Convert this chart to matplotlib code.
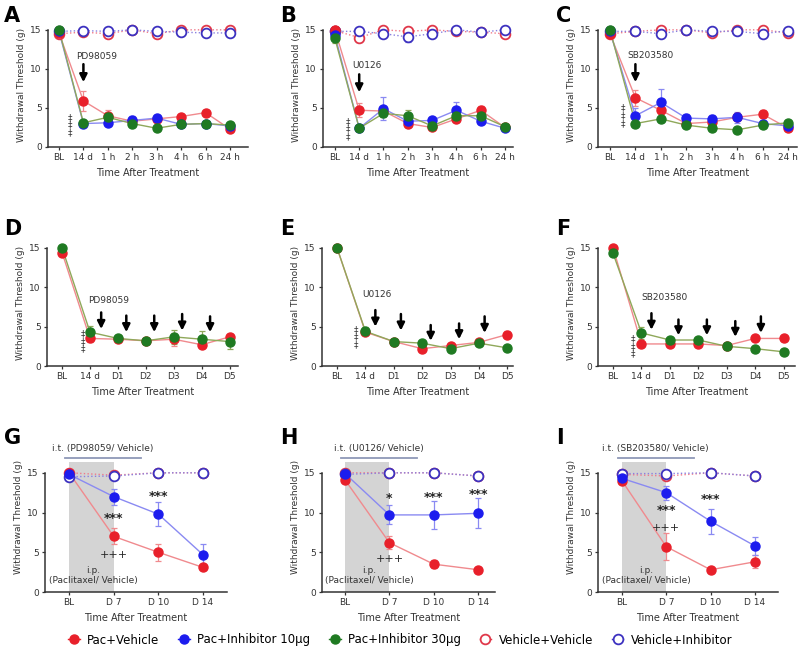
import matplotlib
matplotlib.use("Agg")
import matplotlib.pyplot as plt
from matplotlib.lines import Line2D

hours = ["BL", "14 d", "1 h", "2 h", "3 h", "4 h", "6 h", "24 h"]
days = ["BL", "14 d", "D1", "D2", "D3", "D4", "D5"]
weeks = ["BL", "D 7", "D 10", "D 14"]

# A - PD98059 single dose
a_pv = [14.6, 5.9, 4.0, 3.3, 3.6, 3.9, 4.4, 2.3]
a_pv_err = [0.2, 1.3, 0.7, 0.3, 0.3, 0.3, 0.4, 0.2]
a_p10 = [14.8, 3.0, 3.1, 3.4, 3.7, 2.9, 3.0, 2.7]
a_p10_err = [0.2, 0.3, 0.3, 0.6, 0.4, 0.3, 0.3, 0.3]
a_p30 = [15.0, 3.1, 3.8, 3.0, 2.4, 2.9, 3.0, 2.8]
a_p30_err = [0.1, 0.3, 0.4, 0.3, 0.3, 0.3, 0.3, 0.3]
a_vv = [14.5, 14.7, 14.5, 15.0, 14.5, 15.0, 15.0, 15.0]
a_vi = [14.8, 14.9, 14.8, 15.0, 14.8, 14.7, 14.6, 14.6]

# B - U0126 single dose
b_pv = [15.0, 4.7, 4.6, 3.0, 2.5, 3.6, 4.7, 2.5]
b_pv_err = [0.2, 0.9, 0.5, 0.4, 0.3, 0.4, 0.5, 0.3]
b_p10 = [14.3, 2.4, 4.9, 3.3, 3.4, 4.7, 3.3, 2.4]
b_p10_err = [0.5, 0.3, 1.5, 0.4, 0.4, 1.1, 0.4, 0.2]
b_p30 = [13.9, 2.4, 4.3, 4.0, 2.7, 4.0, 4.0, 2.6]
b_p30_err = [0.6, 0.3, 0.5, 0.8, 0.3, 0.5, 0.5, 0.3]
b_vv = [14.9, 14.0, 15.0, 14.8, 15.0, 14.8, 14.7, 14.5]
b_vv_err = [0.2, 0.6, 0.2, 0.3, 0.2, 0.3, 0.2, 0.3]
b_vi = [14.8, 14.8, 14.5, 14.1, 14.5, 15.0, 14.7, 15.0]
b_vi_err = [0.2, 0.3, 0.3, 0.6, 0.3, 0.2, 0.3, 0.2]

# C - SB203580 single dose
c_pv = [14.5, 6.3, 4.7, 3.0, 3.2, 3.8, 4.2, 2.4]
c_pv_err = [0.2, 1.0, 0.5, 0.4, 0.4, 0.4, 0.5, 0.3]
c_p10 = [14.8, 4.0, 5.7, 3.7, 3.6, 3.8, 3.0, 2.7]
c_p10_err = [0.2, 1.0, 1.7, 0.5, 0.5, 0.7, 0.4, 0.3]
c_p30 = [15.0, 3.0, 3.6, 2.8, 2.4, 2.2, 2.8, 3.1]
c_p30_err = [0.1, 0.3, 0.4, 0.3, 0.3, 0.3, 0.3, 0.3]
c_vv = [14.5, 14.8, 15.0, 15.0, 14.6, 15.0, 15.0, 14.6]
c_vi = [14.8, 14.8, 14.5, 15.0, 14.8, 14.8, 14.5, 14.9]

# D-F repeated doses
d_pv = [14.4, 3.5, 3.4, 3.2, 3.4, 2.7, 3.7]
d_pv_err = [0.3, 0.4, 0.3, 0.2, 0.8, 0.3, 0.3]
d_p30 = [15.0, 4.3, 3.5, 3.2, 3.7, 3.4, 3.1]
d_p30_err = [0.2, 0.8, 0.5, 0.2, 0.9, 1.0, 1.0]
e_pv = [15.0, 4.3, 3.1, 2.2, 2.6, 3.0, 4.0]
e_pv_err = [0.2, 0.4, 0.3, 0.3, 0.3, 0.3, 0.4]
e_p30 = [15.0, 4.4, 3.1, 2.9, 2.2, 2.9, 2.3]
e_p30_err = [0.2, 0.5, 0.3, 0.3, 0.3, 0.3, 0.3]
f_pv = [15.0, 2.8, 2.8, 2.8, 2.6, 3.5, 3.5]
f_pv_err = [0.2, 0.3, 0.3, 0.3, 0.3, 0.3, 0.3]
f_p30 = [14.3, 4.2, 3.3, 3.3, 2.5, 2.2, 1.8]
f_p30_err = [0.3, 0.8, 0.3, 0.3, 0.3, 0.3, 0.3]

# G-I pre-treatment
g_pv = [15.0, 7.0, 5.0, 3.1]
g_pv_err = [0.2, 1.0, 1.1, 0.3]
g_p10 = [14.8, 12.0, 9.8, 4.7]
g_p10_err = [0.2, 1.0, 1.5, 1.3]
g_vv = [15.0, 14.7, 15.0, 15.0]
g_vi = [14.5, 14.6, 15.0, 15.0]
h_pv = [14.1, 6.2, 3.5, 2.8]
h_pv_err = [0.2, 0.8, 0.5, 0.2]
h_p10 = [14.9, 9.7, 9.7, 9.9]
h_p10_err = [0.2, 1.2, 1.8, 1.9]
h_vv = [15.0, 15.0, 15.0, 14.6]
h_vi = [14.8, 15.0, 15.0, 14.6]
i_pv = [14.0, 5.7, 2.8, 3.8]
i_pv_err = [0.2, 1.7, 0.2, 0.8]
i_p10 = [14.3, 12.5, 8.9, 5.8]
i_p10_err = [0.3, 0.9, 1.6, 1.1]
i_vv = [14.8, 14.6, 15.0, 14.6]
i_vi = [14.9, 14.9, 15.0, 14.6]

legend_names = ["Pac+Vehicle", "Pac+Inhibitor 10\u03bcg", "Pac+Inhibitor 30\u03bcg",
                "Vehicle+Vehicle", "Vehicle+Inhibitor"]

RED = "#e8202a"
BLUE = "#1c1cee"
GREEN = "#1f7a22"
ORED = "#e0384a"
OBLUE = "#3d32c0"
styles = {
    "pv": dict(c=RED, lc="#f08a8e", fill=True),
    "p10": dict(c=BLUE, lc="#8a8af2", fill=True),
    "p30": dict(c=GREEN, lc="#8fa85a", fill=True),
    "vv": dict(c=ORED, lc="#f07a8a", fill=False),
    "vi": dict(c=OBLUE, lc="#8a80e0", fill=False),
}
GREY = "#333333"

W, H = 800, 661
fig = plt.figure(figsize=(8, 6.61), dpi=100)


def make_ax(l, r, t, b, xlim, ytop, cats):
    ax = fig.add_axes([l / W, 1 - b / H, (r - l) / W, (b - t) / H])
    ax.set_xlim(*xlim)
    ax.set_ylim(0, ytop)
    for s in ["top", "right"]:
        ax.spines[s].set_visible(False)
    for s in ["left", "bottom"]:
        ax.spines[s].set_color(GREY)
        ax.spines[s].set_linewidth(1.1)
    ax.spines["left"].set_bounds(0, 15)
    ax.set_yticks([0, 5, 10, 15])
    ax.set_xticks(range(len(cats)))
    ax.set_xticklabels(cats)
    ax.tick_params(labelsize=6.5, colors=GREY, length=2.5, width=0.9, pad=2)
    ax.set_ylabel("Withdrawal Threshold (g)", fontsize=6.5, color=GREY, labelpad=3)
    ax.set_xlabel("Time After Treatment", fontsize=7, color=GREY, labelpad=4)
    return ax


def draw(ax, y, err, key):
    st = styles[key]
    x = range(len(y))
    if err is None:
        err = [0.25] * len(y)
    ax.plot(x, y, color=st["lc"], lw=1.0, ls="-" if st["fill"] else ":", zorder=2)
    ax.errorbar(x, y, yerr=err, fmt="none", ecolor=st["lc"], elinewidth=0.9,
                capsize=2, capthick=0.9, zorder=2)
    if st["fill"]:
        ax.plot(x, y, "o", color=st["c"], ms=6.5, zorder=4)
    else:
        ax.plot(x, y, "o", mfc="white", mec=st["c"], mew=1.3, ms=7, ls="none", zorder=3)


def arrow(ax, x, top, tip):
    ax.annotate("", xy=(x, tip), xytext=(x, top),
                arrowprops=dict(arrowstyle="-|>", color="black", lw=1.8, mutation_scale=11,
                                shrinkA=0, shrinkB=0))


def daggers(ax, x, y):
    ax.text(x, y, "\u2021\n\u2021\n\u2021", fontsize=6.5, ha="center", va="center",
            color=GREY, linespacing=0.8)


def letter(px, py, s):
    fig.text(px / W, 1 - py / H, s, fontsize=15, fontweight="bold", ha="left", va="center")


# ---- row 1 ----
row1 = [
    (48, 248, (-0.45, 7.74), [a_pv, a_p10, a_p30, a_vv, a_vi],
     [a_pv_err, a_p10_err, a_p30_err, None, None], "PD98059", "A", 4, -0.53, 2.8),
    (323, 513, (-0.49, 7.33), [b_pv, b_p10, b_p30, b_vv, b_vi],
     [b_pv_err, b_p10_err, b_p30_err, b_vv_err, b_vi_err], "U0126", "B", 280, -0.48, 2.3),
    (598, 797, (-0.47, 7.35), [c_pv, c_p10, c_p30, c_vv, c_vi],
     [c_pv_err, c_p10_err, c_p30_err, None, None], "SB203580", "C", 556, -0.5, 4.0),
]
arrow_top = {"PD98059": (10.6, 8.3, 11.0), "U0126": (9.3, 7.0, 9.8), "SB203580": (10.6, 8.3, 11.2)}
for l, r, xl, ys, errs, drug, let, lx, dx, dy in row1:
    ax = make_ax(l, r, 22, 147, xl, 16, hours)
    for key, y, e in zip(["vv", "vi", "pv", "p10", "p30"], [ys[3], ys[4], ys[0], ys[1], ys[2]],
                         [errs[3], errs[4], errs[0], errs[1], errs[2]]):
        draw(ax, y, e, key)
    top, tip, ty = arrow_top[drug]
    arrow(ax, 1, top, tip)
    ax.text(0.7, ty, drug, fontsize=6.5, color=GREY, ha="left", va="bottom")
    daggers(ax, 1 + dx, dy)
    letter(lx, 16, let)

# ---- row 2 ----
row2 = [
    (47, 238, (-0.54, 6.3), d_pv, d_pv_err, d_p30, d_p30_err, "PD98059", "D", 4,
     [(1.4, 6.8, 4.7), (2.3, 6.4, 4.3), (3.3, 6.4, 4.3), (4.3, 6.6, 4.5), (5.3, 6.3, 4.3)],
     (0.95, 7.8), (-0.25, 3.1)),
    (322, 513, (-0.53, 6.2), e_pv, e_pv_err, e_p30, e_p30_err, "U0126", "E", 280,
     [(1.35, 7.1, 5.0), (2.25, 6.6, 4.5), (3.3, 5.2, 3.2), (4.3, 5.4, 3.4), (5.2, 6.3, 4.2)],
     (0.9, 8.5), (-0.35, 3.7)),
    (598, 795, (-0.53, 6.4), f_pv, f_pv_err, f_p30, f_p30_err, "SB203580", "F", 556,
     [(1.35, 6.7, 4.6), (2.3, 5.9, 3.9), (3.3, 5.9, 3.9), (4.3, 5.7, 3.7), (5.2, 6.3, 4.2)],
     (1.0, 8.1), (-0.3, 2.5)),
]
for l, r, xl, pv, pve, p30, p30e, drug, let, lx, arrows, tpos, dpos in row2:
    ax = make_ax(l, r, 240, 366, xl, 16, days)
    draw(ax, pv, pve, "pv")
    draw(ax, p30, p30e, "p30")
    for x, top, tip in arrows:
        arrow(ax, x, top, tip)
    ax.text(tpos[0], tpos[1], drug, fontsize=6.5, color=GREY, ha="left", va="bottom")
    daggers(ax, 1 + dpos[0], dpos[1])
    letter(lx, 229, let)

# ---- row 3 ----
row3 = [
    (45, 227, (-0.54, 3.54), g_pv, g_pv_err, g_p10, g_p10_err, g_vv, g_vi, "PD98059", "G", 4,
     [("***", 1, 9.3), ("+++", 1, 4.6), ("***", 2, 12.0)]),
    (322, 495, (-0.52, 3.38), h_pv, h_pv_err, h_p10, h_p10_err, h_vv, h_vi, "U0126", "H", 280,
     [("*", 1, 11.8), ("+++", 1, 4.1), ("***", 2, 11.9), ("***", 3, 12.3)]),
    (598, 778, (-0.54, 3.52), i_pv, i_pv_err, i_p10, i_p10_err, i_vv, i_vi, "SB203580", "I", 556,
     [("***", 1, 10.2), ("+++", 1, 8.1), ("***", 2, 11.6)]),
]
for l, r, xl, pv, pve, p10, p10e, vv, vi, drug, let, lx, marks in row3:
    ax = make_ax(l, r, 441, 592, xl, 19, weeks)
    ax.fill_between([0, 1], 0, 16.3, color="#d4d4d4", lw=0, zorder=0)
    draw(ax, vv, None, "vv")
    draw(ax, vi, None, "vi")
    draw(ax, pv, pve, "pv")
    draw(ax, p10, p10e, "p10")
    ax.plot([-0.1, 1.62], [16.9, 16.9], color="#8f98b8", lw=1.3, clip_on=False)
    ax.text(0.76, 17.5, "i.t. (%s/ Vehicle)" % drug, fontsize=6.5, color=GREY,
            ha="center", va="bottom", clip_on=False)
    ax.text(0.55, 2.1, "i.p.\n(Paclitaxel/ Vehicle)", fontsize=6.5, color=GREY,
            ha="center", va="center", linespacing=1.1)
    for s, x, y in marks:
        fs = 9 if "*" in s else 8
        ax.text(x, y, s, fontsize=fs, ha="center", va="center", color="#222222",
                fontweight="bold" if "*" in s else "normal")
    letter(lx, 438, let)

handles = [
    Line2D([], [], color=RED, marker="o", ms=6.5, lw=1),
    Line2D([], [], color=BLUE, marker="o", ms=6.5, lw=1),
    Line2D([], [], color=GREEN, marker="o", ms=6.5, lw=1),
    Line2D([], [], color=ORED, marker="o", mfc="white", mew=1.3, ms=7, lw=1),
    Line2D([], [], color=OBLUE, marker="o", mfc="white", mew=1.3, ms=7, lw=1),
]
fig.legend(handles, legend_names, loc="center", bbox_to_anchor=(0.5, 1 - 640 / H), ncol=5,
           frameon=False, fontsize=8.5, handlelength=1.0, handletextpad=0.6, columnspacing=1.6)

fig.savefig("out.png", dpi=100)
